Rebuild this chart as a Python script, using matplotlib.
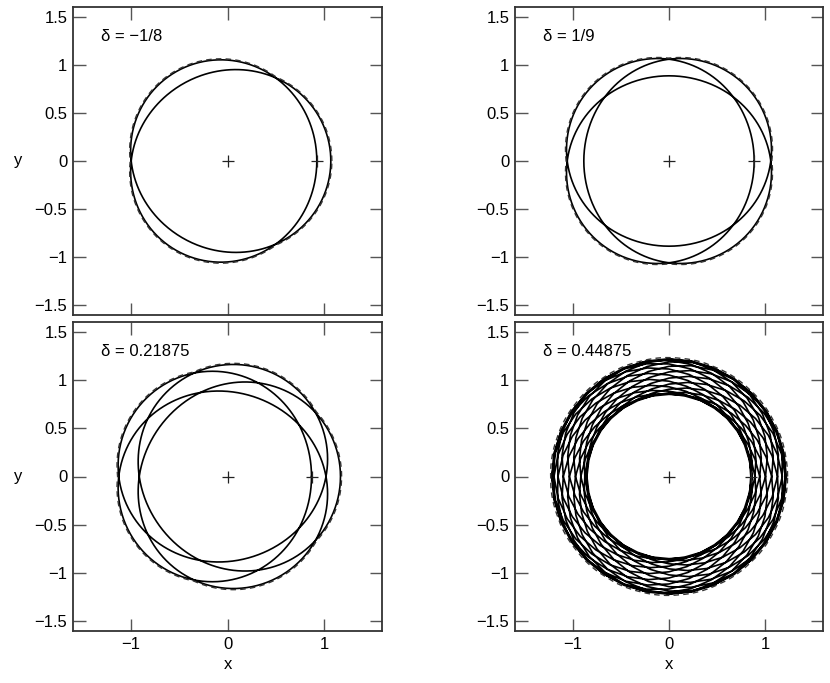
import numpy as np
import matplotlib
matplotlib.use("Agg")
import matplotlib.pyplot as plt

plt.rcParams['font.family'] = ['Liberation Sans', 'DejaVu Sans']

# one entry per panel (top-left, top-right, bottom-left, bottom-right)
deltaLabels = ["δ = −1/8", "δ = 1/9", "δ = 0.21875", "δ = 0.44875"]
# radial / angular frequency ratio as a fraction nuNum/nuDen (nuDen = loops drawn)
nuNum = [3, 4, 5, 19]
nuDen = [2, 3, 4, 18]
# pericentre and apocentre radii
periRadius = [0.925, 0.885, 0.87, 0.85]
apoRadius = [1.07, 1.115, 1.17, 1.22]
pointsPerTurn = [400, 400, 400, 32]

xTicks = [-1, 0, 1]
xTickLabels = ["−1", "0", "1"]
yTicks = [-1.5, -1, -0.5, 0, 0.5, 1, 1.5]
yTickLabels = ["−1.5", "−1", "−0.5", "0", "0.5", "1", "1.5"]


def orbit(i):
    q = nuDen[i]
    nu = nuNum[i] / nuDen[i]
    r0 = (periRadius[i] + apoRadius[i]) / 2
    eps = (apoRadius[i] - periRadius[i]) / 2
    theta = np.linspace(0, 2 * np.pi * q, q * pointsPerTurn[i] + 1)
    r = r0 - eps * np.cos(nu * theta)
    return r * np.cos(theta), r * np.sin(theta)


def envelope(i):
    # outer edge of the rosette: largest radius over all loops at each angle
    q = nuDen[i]
    nu = nuNum[i] / nuDen[i]
    r0 = (periRadius[i] + apoRadius[i]) / 2
    eps = (apoRadius[i] - periRadius[i]) / 2
    phi = np.linspace(0, 2 * np.pi, 1441)
    rs = np.array([r0 - eps * np.cos(nu * (phi + 2 * np.pi * k)) for k in range(q)])
    rEnv = rs.max(axis=0) * 1.01
    return rEnv * np.cos(phi), rEnv * np.sin(phi)


W, H = 830, 683
fig = plt.figure(figsize=(W / 100, H / 100), dpi=100)

# pixel boxes: left, top, right, bottom
boxes = [(73, 7, 382, 315), (515, 7, 823, 315),
         (73, 322, 382, 631), (515, 322, 823, 631)]

for i in range(4):
    l, t, r, b = boxes[i]
    ax = fig.add_axes([l / W, (H - b) / H, (r - l) / W, (b - t) / H])
    x, y = orbit(i)
    ax.plot(x, y, color='black', linewidth=1.2)
    ex, ey = envelope(i)
    ax.plot(ex, ey, color='#333333', linewidth=1.0, linestyle=(0, (4, 3)))
    ax.plot([0, periRadius[i]], [0, 0], '+', color='#222222', markersize=9, markeredgewidth=0.9)
    ax.text(-1.31, 1.29, deltaLabels[i], fontsize=12, ha='left', va='center')

    ax.set_xlim(-1.6, 1.6)
    ax.set_ylim(-1.6, 1.6)
    ax.set_xticks(xTicks)
    ax.set_yticks(yTicks)
    ax.set_yticklabels(yTickLabels)
    if i >= 2:
        ax.set_xticklabels(xTickLabels)
        ax.set_xlabel("x", fontsize=12)
        ax.xaxis.set_label_coords(0.5, -0.085)
    else:
        ax.set_xticklabels([])
    if i % 2 == 0:
        ax.set_ylabel("y", fontsize=12, rotation=0, va='center')
        ax.yaxis.set_label_coords(-0.178, 0.5)
    ax.tick_params(direction='in', length=9, width=1.0, color='#555555',
                   top=True, right=True, labelsize=12, pad=4)
    for s in ax.spines.values():
        s.set_linewidth(1.3)
        s.set_color('#333333')

fig.savefig("out.png", dpi=100)
